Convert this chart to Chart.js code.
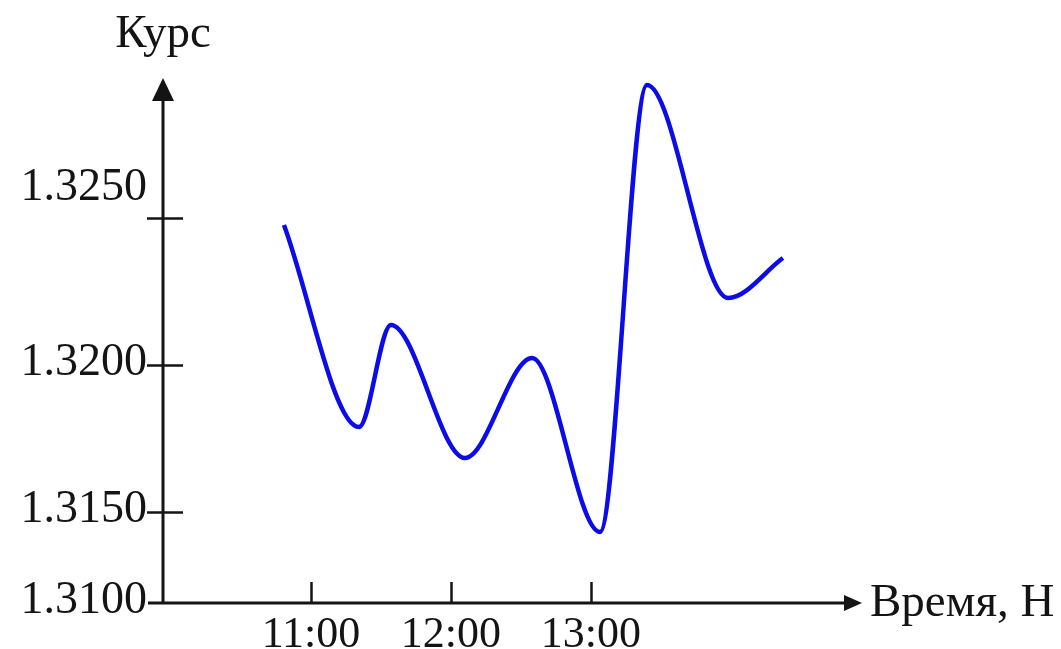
<!DOCTYPE html>
<html>
<head>
<meta charset="utf-8">
<title>Курс</title>
<script src="https://cdn.jsdelivr.net/npm/chart.js@4.4.1/dist/chart.umd.min.js"></script>
<style>
  html, body { margin: 0; padding: 0; background: #fff; }
  #wrap { width: 1061px; height: 649px; position: relative; }
</style>
</head>
<body>
<div id="wrap"><canvas id="rateChart"></canvas></div>
<script>
// time in hours and rate at the turning points
const timeValues = [10.807, 11.343, 11.571, 12.100, 12.579, 13.064, 13.400, 13.979, 14.371];
const rateValues = [1.32476, 1.31789, 1.32136, 1.31684, 1.32024, 1.31432, 1.32952, 1.32228, 1.32364];

const xTickValues = [11, 12, 13];
const xTickLabels = ["11:00", "12:00", "13:00"];
// first label sits on the origin of the axes
const yTickValues = [1.3150, 1.3200, 1.3250];
const yTickLabels = ["1.3100", "1.3150", "1.3200", "1.3250"];

const xMin = 9.943, xMax = 14.936;
const yMin = 1.311905, yMax = 1.329762;

const FONT = "'Liberation Serif', 'Times New Roman', serif";
const INK = "#141414";

// axes with arrows, tick marks, axis names
const axesPlugin = {
  id: "axesPlugin",
  afterDraw(chart) {
    let ctx = chart.ctx;
    let xs = chart.scales.x;
    let ys = chart.scales.y;
    let area = chart.chartArea;
    let ox = area.left, oy = area.bottom;

    ctx.save();
    ctx.strokeStyle = INK;
    ctx.fillStyle = INK;
    ctx.lineWidth = 3;

    // y axis
    ctx.beginPath();
    ctx.moveTo(ox, oy + 1);
    ctx.lineTo(ox, area.top + 18);
    ctx.stroke();
    ctx.beginPath();
    ctx.moveTo(ox, area.top);
    ctx.lineTo(ox - 11, area.top + 23);
    ctx.lineTo(ox + 11, area.top + 23);
    ctx.closePath();
    ctx.fill();

    // x axis
    ctx.beginPath();
    ctx.moveTo(ox - 15, oy);
    ctx.lineTo(area.right - 12, oy);
    ctx.stroke();
    ctx.beginPath();
    ctx.moveTo(area.right, oy);
    ctx.lineTo(area.right - 18, oy - 8);
    ctx.lineTo(area.right - 18, oy + 8);
    ctx.closePath();
    ctx.fill();

    // y tick marks cross the axis
    ctx.lineWidth = 2.5;
    yTickValues.forEach(v => {
      let py = Math.round(ys.getPixelForValue(v)) + 0.5;
      ctx.beginPath();
      ctx.moveTo(ox - 16, py);
      ctx.lineTo(ox + 20, py);
      ctx.stroke();
    });

    // x tick marks above the axis
    xTickValues.forEach(v => {
      let px = Math.round(xs.getPixelForValue(v)) + 0.5;
      ctx.beginPath();
      ctx.moveTo(px, oy);
      ctx.lineTo(px, oy - 21);
      ctx.stroke();
    });

    // axis names
    ctx.font = "47px " + FONT;
    ctx.textBaseline = "alphabetic";
    ctx.textAlign = "center";
    ctx.fillText("Курс", ox, 47);
    ctx.textAlign = "left";
    ctx.fillText("Время, Н", area.right + 8, oy + 13);
    ctx.restore();
  }
};

const points = timeValues.map((t, i) => ({ x: t, y: rateValues[i] }));

new Chart(document.querySelector("#rateChart"), {
  type: "line",
  data: {
    datasets: [{
      data: points,
      borderColor: "#0c0ce8",
      borderWidth: 4.5,
      pointRadius: 0,
      fill: false,
      cubicInterpolationMode: "monotone"
    }]
  },
  options: {
    responsive: true,
    maintainAspectRatio: false,
    animation: false,
    layout: { padding: { left: 0, top: 78, right: 199, bottom: 0 } },
    plugins: {
      legend: { display: false },
      tooltip: { enabled: false }
    },
    scales: {
      x: {
        type: "linear",
        min: xMin,
        max: xMax,
        grid: { display: false, drawTicks: false },
        border: { display: false },
        afterFit: (scale) => { scale.height = 46; },
        afterBuildTicks: (scale) => {
          scale.ticks = xTickValues.map(v => ({ value: v }));
        },
        ticks: {
          padding: 6,
          color: INK,
          font: { family: FONT, size: 44 },
          maxRotation: 0,
          autoSkip: false,
          callback: (value) => xTickLabels[xTickValues.indexOf(value)]
        }
      },
      y: {
        type: "linear",
        min: yMin,
        max: yMax,
        grid: { display: false, drawTicks: false },
        border: { display: false },
        afterFit: (scale) => { scale.width = 163; },
        afterBuildTicks: (scale) => {
          scale.ticks = [yMin].concat(yTickValues).map(v => ({ value: v }));
        },
        ticks: {
          padding: 16,
          labelOffset: -2,
          color: INK,
          font: { family: FONT, size: 46 },
          autoSkip: false,
          // the top label sits above its tick in the original, an empty 2nd line lifts it
          callback: (value, index) => index === yTickLabels.length - 1 ? [yTickLabels[index], ""] : yTickLabels[index]
        }
      }
    }
  },
  plugins: [axesPlugin]
});
</script>
</body>
</html>
